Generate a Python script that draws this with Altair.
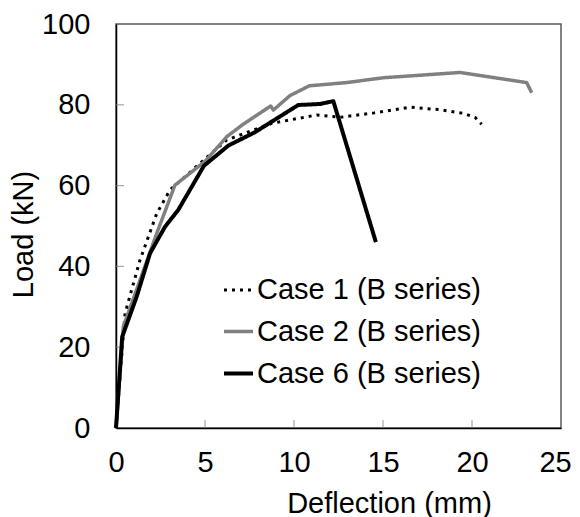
import altair as alt
import pandas as pd

series_names = ["Case 1 (B series)", "Case 2 (B series)", "Case 6 (B series)"]

case1_x = [0, 0.51, 1.35, 2.29, 3.03, 4.72, 6.22, 8.75, 11.28, 12.58, 14.5, 16.52, 18.2, 19.51, 20.17, 20.54]
case1_y = [0, 28.4, 41.6, 53.1, 58.9, 65.5, 71.3, 75.4, 77.5, 76.9, 78.0, 79.4, 78.8, 77.9, 76.9, 75.2]

case2_x = [0, 0.41, 1.35, 2.29, 3.31, 5.0, 6.22, 7.15, 8.69, 8.84, 9.78, 10.86, 12.96, 15.02, 19.33, 23.07, 23.35]
case2_y = [0, 25.1, 36.6, 48.2, 60.1, 66.0, 72.1, 75.2, 79.7, 78.7, 82.3, 84.7, 85.5, 86.7, 88.0, 85.5, 83.0]

case6_x = [0, 0.35, 1.16, 1.91, 2.75, 3.5, 4.94, 6.31, 7.8, 10.24, 11.46, 12.21, 14.6]
case6_y = [0, 22.6, 32.5, 43.2, 49.8, 54.0, 64.9, 69.9, 73.2, 79.95, 80.2, 80.9, 46.0]

x_tick_values = [5, 10, 15, 20]
y_tick_values = [20, 40, 60, 80]
x_label_values = [0, 5, 10, 15, 20, 25]
y_label_values = [0, 20, 40, 60, 80, 100]

series_colors = ["#000000", "#808080", "#000000"]
series_dashes = [[3, 5], [1, 0], [1, 0]]
series_widths = [3, 4, 3.5]

rows = []
for name, xs, ys in zip(series_names, [case1_x, case2_x, case6_x], [case1_y, case2_y, case6_y]):
    for i, (xv, yv) in enumerate(zip(xs, ys)):
        rows.append({"series": name, "x": xv, "y": yv, "order": i})
df = pd.DataFrame(rows)

FONT = "Liberation Sans"

legend = alt.Legend(
    title=None, orient="none", legendX=106, legendY=250,
    symbolType="stroke", symbolSize=841, labelOffset=2, rowPadding=10,
    padding=0, labelFontSize=29, labelFont=FONT, labelColor="#000000",
    labelLimit=400,
)

x_enc = alt.X(
    "x:Q",
    scale=alt.Scale(domain=[0, 25], nice=False, zero=False),
    axis=alt.Axis(values=x_label_values, title="Deflection (mm)", ticks=False,
                  labelFlush=False, labelPadding=20, titlePadding=12, titleX=273, format="d",
                  labelOffset={"condition": {"test": "datum.value === 25", "value": -6}, "value": 0}),
)
y_enc = alt.Y(
    "y:Q",
    scale=alt.Scale(domain=[0, 100], nice=False),
    axis=alt.Axis(values=y_label_values, title="Load (kN)", ticks=False,
                  labelFlush=False, labelPadding=26, titlePadding=3, titleY=210, format="d"),
)

lines = alt.Chart(df).mark_line(strokeCap="butt", strokeJoin="round").encode(
    x=x_enc,
    y=y_enc,
    color=alt.Color("series:N", scale=alt.Scale(domain=series_names, range=series_colors), legend=legend),
    strokeDash=alt.StrokeDash("series:N", scale=alt.Scale(domain=series_names, range=series_dashes), legend=legend),
    strokeWidth=alt.StrokeWidth("series:N", scale=alt.Scale(domain=series_names, range=series_widths), legend=legend),
    order="order:Q",
)

xticks_df = pd.DataFrame({"x": x_tick_values})
yticks_df = pd.DataFrame({"y": y_tick_values})

xticks = alt.Chart(xticks_df).mark_tick(orient="vertical", size=8, yOffset=-4, color="#808080", thickness=1.2).encode(
    x=alt.X("x:Q"), y=alt.datum(0)
)
yticks = alt.Chart(yticks_df).mark_tick(orient="horizontal", size=8, xOffset=4, color="#808080", thickness=1.2).encode(
    y=alt.Y("y:Q"), x=alt.datum(0)
)

chart = alt.layer(xticks, yticks, lines).properties(
    width=445, height=404,
    autosize=alt.AutoSizeParams(type="none"),
    padding={"left": 108, "top": 16, "right": 11, "bottom": 89},
).configure_view(
    stroke="#595959", strokeWidth=1.5
).configure_axis(
    domainColor="#000000", domainWidth=1.5, grid=False,
    labelFont=FONT, labelFontSize=29, labelColor="#000000",
    titleFont=FONT, titleFontSize=29, titleFontWeight="normal", titleColor="#000000",
)

chart.save("out.html", embed_options={"renderer": "svg", "actions": False})
